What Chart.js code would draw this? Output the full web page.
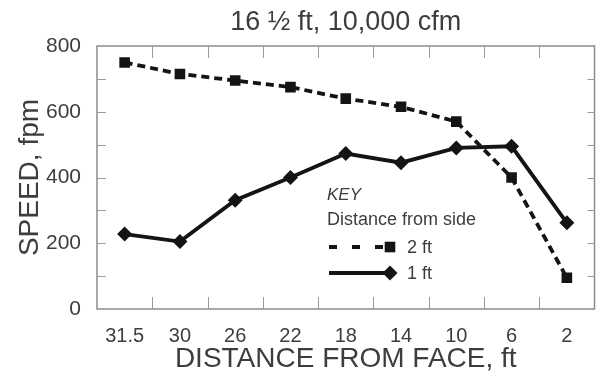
<!DOCTYPE html>
<html>
<head>
<meta charset="utf-8">
<script src="https://cdn.jsdelivr.net/npm/chart.js@4.4.1/dist/chart.umd.min.js"></script>
<style>
  html, body { margin: 0; padding: 0; background: #fff; }
  #wrap { width: 602px; height: 376px; }
</style>
</head>
<body>
<div id="wrap"><canvas id="speedChart" width="602" height="376"></canvas></div>
<script>
// values
const distanceLabels = ['31.5', '30', '26', '22', '18', '14', '10', '6', '2'];
const speed2ft = [750, 715, 695, 675, 640, 615, 570, 400, 95];
const speed1ft = [228, 205, 331, 400, 473, 445, 490, 495, 262];
const seriesNames = ['2 ft', '1 ft'];
const speedMin = 0;
const speedMax = 800;
const speedStep = 200;
const minorStep = 100;

const FONT = "'Liberation Sans', Arial, Helvetica, sans-serif";
const TEXT = '#3d3d3d';
const INK = '#141414';
const FRAME = '#8c8c8c';

// frame, inside tick marks and the KEY box, drawn on the canvas
const framePlugin = {
    id: 'frame',
    beforeDatasetsDraw(chart) {
        const { ctx, chartArea: a, scales } = chart;
        ctx.save();
        ctx.strokeStyle = FRAME;
        ctx.lineWidth = 1.5;
        ctx.strokeRect(a.left, a.top, a.right - a.left, a.bottom - a.top);

        ctx.lineWidth = 1;
        ctx.strokeStyle = '#9a9a9a';
        ctx.beginPath();
        // x ticks sit on the boundaries between categories, top and bottom
        for (let i = 0; i < distanceLabels.length - 1; i++) {
            const x = Math.round((scales.x.getPixelForTick(i) + scales.x.getPixelForTick(i + 1)) / 2) + 0.5;
            ctx.moveTo(x, a.bottom);
            ctx.lineTo(x, a.bottom - 12);
            ctx.moveTo(x, a.top);
            ctx.lineTo(x, a.top + 12);
        }
        // y ticks every 100, both sides
        for (let v = speedMin + minorStep; v < speedMax; v += minorStep) {
            const y = Math.round(scales.y.getPixelForValue(v)) + 0.5;
            ctx.moveTo(a.left, y);
            ctx.lineTo(a.left + 9, y);
            ctx.moveTo(a.right, y);
            ctx.lineTo(a.right - 7, y);
        }
        ctx.stroke();
        ctx.restore();
    },
    afterDraw(chart) {
        const { ctx } = chart;
        const sets = chart.data.datasets;
        const x0 = 327;
        ctx.save();
        ctx.fillStyle = TEXT;
        ctx.textBaseline = 'alphabetic';
        ctx.font = 'italic 17px ' + FONT;
        ctx.fillText('KEY', x0, 200);
        ctx.font = '18px ' + FONT;
        ctx.fillText('Distance from side', x0, 225);

        const rows = [247, 273];
        sets.forEach((ds, i) => {
            const y = rows[i];
            ctx.strokeStyle = INK;
            ctx.lineWidth = 3.8;
            ctx.setLineDash(i === 0 ? [8, 15] : []);
            ctx.beginPath();
            ctx.moveTo(x0 + 2, y);
            ctx.lineTo(x0 + 62, y);
            ctx.stroke();
            ctx.setLineDash([]);
            ctx.fillStyle = INK;
            Chart.helpers.drawPoint(ctx, { pointStyle: ds.pointStyle, radius: ds.pointRadius, borderWidth: 0 }, x0 + 63, y);
            ctx.fillStyle = TEXT;
            ctx.font = '18px ' + FONT;
            ctx.textBaseline = 'middle';
            ctx.fillText(ds.label, x0 + 80, y + 1);
        });
        ctx.restore();
    }
};

function renderSpeedChart() {
    const ctx = document.getElementById('speedChart').getContext('2d');

    new Chart(ctx, {
        type: 'line',
        data: {
            labels: distanceLabels,
            datasets: [{
                label: seriesNames[0],
                data: speed2ft,
                borderColor: INK,
                borderWidth: 3.8,
                borderDash: [8, 5],
                pointStyle: 'rect',
                pointRadius: 7.5,
                pointBackgroundColor: INK,
                pointBorderColor: INK,
                pointBorderWidth: 0,
                fill: false,
                tension: 0,
            }, {
                label: seriesNames[1],
                data: speed1ft,
                borderColor: INK,
                borderWidth: 3.8,
                pointStyle: 'rectRot',
                pointRadius: 7.5,
                pointBackgroundColor: INK,
                pointBorderColor: INK,
                pointBorderWidth: 0,
                fill: false,
                tension: 0,
            }],
        },
        options: {
            responsive: false,
            animation: false,
            devicePixelRatio: 1,
            layout: {
                padding: { top: 0, right: 1, bottom: 0, left: 0 },
            },
            plugins: {
                legend: { display: false },
                tooltip: { enabled: false },
                title: {
                    display: true,
                    fullSize: false, // center over the plot, not the page
                    text: '16 \u00BD ft, 10,000 cfm',
                    color: TEXT,
                    font: { family: FONT, size: 27, weight: 'normal' },
                    padding: { top: 6, bottom: 7.6 },
                },
            },
            scales: {
                x: {
                    type: 'category',
                    offset: true,
                    grid: { display: false, drawTicks: false },
                    border: { display: false },
                    ticks: {
                        color: TEXT,
                        font: { family: FONT, size: 20 },
                        padding: 15,
                        maxRotation: 0,
                        autoSkip: false,
                    },
                    title: {
                        display: true,
                        text: 'DISTANCE FROM FACE, ft',
                        color: TEXT,
                        font: { family: FONT, size: 28 },
                        padding: { top: 0, bottom: 0 },
                    },
                    afterFit: (scale) => { scale.height = 67; },
                },
                y: {
                    min: speedMin,
                    max: speedMax,
                    grid: { display: false, drawTicks: false },
                    border: { display: false },
                    ticks: {
                        stepSize: speedStep,
                        color: TEXT,
                        font: { family: FONT, size: 21 },
                        padding: 16,
                    },
                    title: {
                        display: true,
                        text: 'SPEED, fpm',
                        color: TEXT,
                        font: { family: FONT, size: 28 },
                        padding: { top: 13, bottom: 0 },
                    },
                    afterFit: (scale) => { scale.width = 97; },
                },
            },
        },
        plugins: [framePlugin],
    });
}

renderSpeedChart();
</script>
</body>
</html>
